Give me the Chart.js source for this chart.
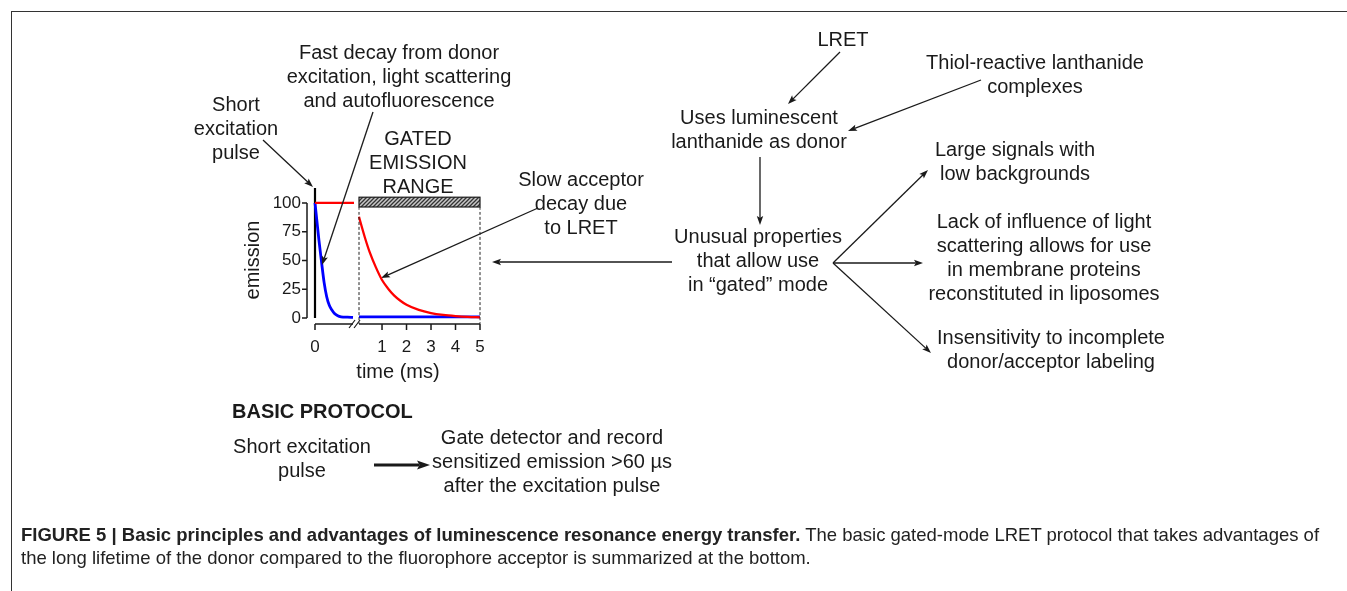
<!DOCTYPE html>
<html>
<head>
<meta charset="utf-8">
<script src="https://cdn.jsdelivr.net/npm/chart.js@4.4.1/dist/chart.umd.min.js"></script>
<style>
    body { margin: 0; background: #fff; }
    #wrap { position: relative; width: 1347px; height: 591px; overflow: hidden; background: #fff; }
    #wrap canvas { position: absolute; left: 0; top: 0; }
    #frame { position: absolute; left: 11px; top: 11px; width: 1400px; height: 700px;
             border-top: 1.5px solid #333; border-left: 1.5px solid #333; }
    #caption { position: absolute; left: 21px; top: 523px; white-space: nowrap;
               font: 18.5px 'Liberation Sans', Arial, sans-serif; line-height: 23px; color: #222; }
    #caption b { font-weight: bold; }
</style>
</head>
<body>
<div id="wrap">
    <div id="frame"></div>
    <canvas id="pulseChart" width="1347" height="591"></canvas>
    <canvas id="gateChart" width="1347" height="591"></canvas>
    <div id="caption"><b>FIGURE 5 | Basic principles and advantages of luminescence resonance energy transfer.</b> The basic gated-mode LRET protocol that takes advantages of<br>the long lifetime of the donor compared to the fluorophore acceptor is summarized at the bottom.</div>
</div>
<script>
const FONT = "'Liberation Sans', Arial, sans-serif"
const INK = '#1a1a1a'

// tick labels
let Y_TICKS = [0, 25, 50, 75, 100]
let X_TICKS_PULSE = [0]
let X_TICKS_GATE = [1, 2, 3, 4, 5]

// left panel: the excitation pulse region, before the axis break (µs)
let PULSE_TIME = [0, 3, 6, 10, 14, 18, 22, 26, 30, 35, 40, 50, 58.5]
let DONOR_FAST = [100, 84, 68, 49, 31, 18.5, 11, 7, 4, 2, 1.1, 0.7, 0.6]
let ACCEPTOR_EARLY_TIME = [0, 60]
let ACCEPTOR_EARLY = [100, 100]
let PULSE_LINE = [0, 113] // emission range of the pulse bar at t = 0

// right panel: gated window (ms)
let GATE_TIME = [0.06, 0.15, 0.3, 0.5, 0.75, 1, 1.25, 1.5, 1.75, 2, 2.5, 3, 3.5, 4, 4.5, 5]
let ACCEPTOR_SLOW = [88, 81, 70, 57, 44, 33, 25.5, 19.5, 15, 11.5, 7, 4.3, 2.7, 1.7, 1.0, 0.6]
let DONOR_LATE_TIME = [0.06, 5]
let DONOR_LATE = [1, 1]
let GATE_RANGE = [0.06, 5]
let GATE_BAND = [96.5, 105]

// scale extents (the y range is shared so both panels line up)
let Y_RANGE = [-5.2, 113]
let PULSE_X_RANGE = [-12.3, 60]

// text of the diagram around the plot, centre x / first line y
const TEXT_BLOCKS = [
    {x: 399, y: 53, lines: ['Fast decay from donor', 'excitation, light scattering', 'and autofluorescence']},
    {x: 236, y: 105, lines: ['Short', 'excitation', 'pulse']},
    {x: 418, y: 139, lines: ['GATED', 'EMISSION', 'RANGE']},
    {x: 581, y: 180, lines: ['Slow acceptor', 'decay due', 'to LRET']},
    {x: 843, y: 40, lines: ['LRET']},
    {x: 1035, y: 63, lines: ['Thiol-reactive lanthanide', 'complexes']},
    {x: 759, y: 118, lines: ['Uses luminescent', 'lanthanide as donor']},
    {x: 758, y: 237, lines: ['Unusual properties', 'that allow use', 'in \u201cgated\u201d mode']},
    {x: 1015, y: 150, lines: ['Large signals with', 'low backgrounds']},
    {x: 1044, y: 222, lines: ['Lack of influence of light', 'scattering allows for use', 'in membrane proteins', 'reconstituted in liposomes']},
    {x: 1051, y: 338, lines: ['Insensitivity to incomplete', 'donor/acceptor labeling']},
    {x: 302, y: 447, lines: ['Short excitation', 'pulse']},
    {x: 552, y: 438, lines: ['Gate detector and record', 'sensitized emission >60 \u00b5s', 'after the excitation pulse']}
]

// pointer arrows: from -> to (tip)
const ARROWS = [
    [263, 140, 313, 187],
    [373, 112, 322, 265],
    [538, 208, 381, 278],
    [672, 262, 492, 262],
    [840, 52, 788, 104],
    [981, 80, 848, 131],
    [760, 157, 760, 225],
    [833, 263, 928, 170],
    [833, 263, 923, 263],
    [833, 263, 931, 353]
]

function toPoints(xs, ys) {
    return xs.map((x, i) => ({x: x, y: ys[i]}))
}

function drawArrow(ctx, x1, y1, x2, y2, lw, headLen, headW) {
    let a = Math.atan2(y2 - y1, x2 - x1)
    let bx = x2 - Math.cos(a) * headLen * 0.8
    let by = y2 - Math.sin(a) * headLen * 0.8
    ctx.lineWidth = lw
    ctx.beginPath()
    ctx.moveTo(x1, y1)
    ctx.lineTo(bx, by)
    ctx.stroke()
    ctx.beginPath()
    ctx.moveTo(x2, y2)
    ctx.lineTo(x2 - Math.cos(a) * headLen + Math.sin(a) * headW, y2 - Math.sin(a) * headLen - Math.cos(a) * headW)
    ctx.lineTo(x2 - Math.cos(a) * headLen * 0.8, y2 - Math.sin(a) * headLen * 0.8)
    ctx.lineTo(x2 - Math.cos(a) * headLen - Math.sin(a) * headW, y2 - Math.sin(a) * headLen + Math.cos(a) * headW)
    ctx.closePath()
    ctx.fill()
}

// R-style detached axes for the pulse panel + all the diagram text
const pulseDecor = {
    id: 'pulseDecor',
    afterDraw(chart) {
        const {ctx, chartArea, scales: {x, y}} = chart
        ctx.save()
        ctx.strokeStyle = INK
        ctx.fillStyle = INK
        ctx.lineWidth = 1.5

        // y axis
        let ax = chartArea.left
        ctx.beginPath()
        ctx.moveTo(ax, y.getPixelForValue(0))
        ctx.lineTo(ax, y.getPixelForValue(100))
        Y_TICKS.forEach(v => {
            ctx.moveTo(ax - 5, y.getPixelForValue(v))
            ctx.lineTo(ax, y.getPixelForValue(v))
        })
        // x axis up to the break
        let ay = chartArea.bottom
        ctx.moveTo(x.getPixelForValue(0), ay)
        ctx.lineTo(x.getPixelForValue(58.5), ay)
        X_TICKS_PULSE.forEach(v => {
            ctx.moveTo(x.getPixelForValue(v), ay)
            ctx.lineTo(x.getPixelForValue(v), ay + 6)
        })
        ctx.stroke()

        // the // break mark
        let bx = x.getPixelForValue(58.5)
        ctx.lineWidth = 1.2
        ctx.beginPath()
        ctx.moveTo(bx - 4, ay + 4); ctx.lineTo(bx + 2, ay - 4)
        ctx.moveTo(bx + 1, ay + 4); ctx.lineTo(bx + 7, ay - 4)
        ctx.stroke()

        // axis titles
        ctx.font = '20px ' + FONT
        ctx.textAlign = 'center'
        ctx.textBaseline = 'middle'
        ctx.fillText('time (ms)', 398, 372)
        ctx.save()
        ctx.translate(253, 260)
        ctx.rotate(-Math.PI / 2)
        ctx.fillText('emission', 0, 0)
        ctx.restore()

        // diagram text
        TEXT_BLOCKS.forEach(b => {
            b.lines.forEach((line, i) => ctx.fillText(line, b.x, b.y + i * 24.3))
        })
        ctx.font = 'bold 20px ' + FONT
        ctx.textAlign = 'left'
        ctx.fillText('BASIC PROTOCOL', 232, 412)

        // arrows
        ARROWS.forEach(a => drawArrow(ctx, a[0], a[1], a[2], a[3], 1.3, 9, 3.2))
        drawArrow(ctx, 374, 465, 430, 465, 3.2, 13, 4.5)
        ctx.restore()
    }
}

// axis of the gated window and the hatched gate bar
const gateDecor = {
    id: 'gateDecor',
    afterDraw(chart) {
        const {ctx, chartArea, scales: {x, y}} = chart
        ctx.save()
        ctx.strokeStyle = INK
        ctx.lineWidth = 1.5
        let ay = chartArea.bottom
        ctx.beginPath()
        ctx.moveTo(x.getPixelForValue(GATE_RANGE[0]), ay)
        ctx.lineTo(x.getPixelForValue(GATE_RANGE[1]), ay)
        X_TICKS_GATE.forEach(v => {
            ctx.moveTo(x.getPixelForValue(v), ay)
            ctx.lineTo(x.getPixelForValue(v), ay + 6)
        })
        ctx.stroke()

        // hatch pattern
        let tile = document.createElement('canvas')
        tile.width = 4; tile.height = 4
        let t = tile.getContext('2d')
        t.fillStyle = '#c8c8c8'
        t.fillRect(0, 0, 4, 4)
        t.strokeStyle = '#333'
        t.lineWidth = 1.3
        t.beginPath()
        t.moveTo(0, 4); t.lineTo(4, 0)
        t.moveTo(-1, 1); t.lineTo(1, -1)
        t.moveTo(3, 5); t.lineTo(5, 3)
        t.stroke()
        let gx1 = x.getPixelForValue(GATE_RANGE[0])
        let gx2 = x.getPixelForValue(GATE_RANGE[1])
        let gy1 = y.getPixelForValue(GATE_BAND[1])
        let gy2 = y.getPixelForValue(GATE_BAND[0])
        ctx.fillStyle = ctx.createPattern(tile, 'repeat')
        ctx.fillRect(gx1, gy1, gx2 - gx1, gy2 - gy1)
        ctx.lineWidth = 1.2
        ctx.strokeRect(gx1, gy1, gx2 - gx1, gy2 - gy1)
        ctx.restore()
    }
}

function tickFont() {
    return {family: FONT, size: 17}
}

function makeLine(data, color, width, extra) {
    return Object.assign({
        data: data,
        borderColor: color,
        borderWidth: width,
        pointRadius: 0,
        cubicInterpolationMode: 'monotone',
        clip: false
    }, extra || {})
}

window.onload = (event) => {
    Chart.defaults.font.family = FONT
    Chart.defaults.color = INK

    // left panel with the y axis
    new Chart(document.getElementById('pulseChart'), {
        type: 'line',
        data: {
            datasets: [
                makeLine(toPoints(ACCEPTOR_EARLY_TIME, ACCEPTOR_EARLY), '#ff0000', 2.3),
                makeLine(toPoints(PULSE_TIME, DONOR_FAST), '#0000ff', 2.8),
                makeLine(toPoints([0, 0], PULSE_LINE), '#000000', 2.2)
            ]
        },
        options: {
            responsive: false,
            animation: false,
            devicePixelRatio: 1,
            layout: {padding: {left: 267, right: 993, top: 188, bottom: 227}},
            plugins: {legend: {display: false}, tooltip: {enabled: false}},
            scales: {
                x: {
                    type: 'linear', min: PULSE_X_RANGE[0], max: PULSE_X_RANGE[1],
                    grid: {display: false, drawTicks: false}, border: {display: false},
                    ticks: {font: tickFont(), padding: 13, maxRotation: 0},
                    afterBuildTicks: s => { s.ticks = X_TICKS_PULSE.map(v => ({value: v})) },
                    afterFit: s => { s.height = 40 }
                },
                y: {
                    type: 'linear', min: Y_RANGE[0], max: Y_RANGE[1],
                    grid: {display: false, drawTicks: false}, border: {display: false},
                    ticks: {font: tickFont(), padding: 6},
                    afterBuildTicks: s => { s.ticks = Y_TICKS.map(v => ({value: v})) },
                    afterFit: s => { s.width = 40 }
                }
            }
        },
        plugins: [pulseDecor]
    })

    // right panel: the gated window after the break
    new Chart(document.getElementById('gateChart'), {
        type: 'line',
        data: {
            datasets: [
                makeLine(toPoints([GATE_RANGE[0], GATE_RANGE[0]], [GATE_BAND[0], Y_RANGE[0]]), '#222', 1, {borderDash: [3, 2]}),
                makeLine(toPoints([GATE_RANGE[1], GATE_RANGE[1]], [GATE_BAND[0], Y_RANGE[0]]), '#222', 1, {borderDash: [3, 2]}),
                makeLine(toPoints(GATE_TIME, ACCEPTOR_SLOW), '#ff0000', 2.3),
                makeLine(toPoints(DONOR_LATE_TIME, DONOR_LATE), '#0000ff', 2.8)
            ]
        },
        options: {
            responsive: false,
            animation: false,
            devicePixelRatio: 1,
            layout: {padding: {left: 359, right: 867, top: 188, bottom: 227}},
            plugins: {legend: {display: false}, tooltip: {enabled: false}},
            scales: {
                x: {
                    type: 'linear', min: GATE_RANGE[0], max: GATE_RANGE[1],
                    grid: {display: false, drawTicks: false}, border: {display: false},
                    ticks: {font: tickFont(), padding: 13, maxRotation: 0},
                    afterBuildTicks: s => { s.ticks = X_TICKS_GATE.map(v => ({value: v})) },
                    afterFit: s => { s.height = 40 }
                },
                y: {
                    type: 'linear', min: Y_RANGE[0], max: Y_RANGE[1], display: false
                }
            }
        },
        plugins: [gateDecor]
    })
}
</script>
</body>
</html>
